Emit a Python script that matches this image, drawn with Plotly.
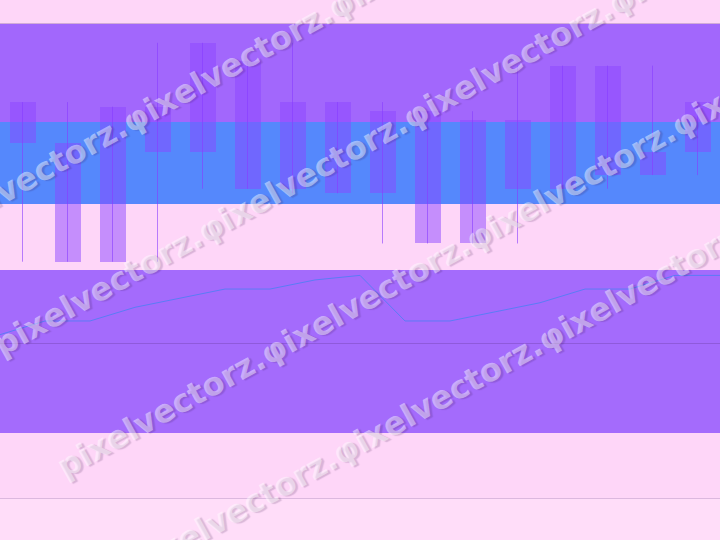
import math
import plotly.graph_objects as go

# ---- data ----
idx = list(range(16))
open_ = [135, 126, 100, 134, 124, 144, 116, 135, 115, 133, 104, 131, 116, 143, 119, 124]
close = [126, 100, 134, 124, 148, 116, 135, 115, 133, 104, 131, 116, 143, 119, 124, 135]
high = [135, 135, 134, 148, 148, 144, 148, 135, 135, 133, 133, 143, 143, 143, 143, 135]
low = [100, 100, 100, 100, 116, 116, 115, 115, 104, 104, 104, 104, 116, 116, 119, 119]

line_x = [i - 0.5 for i in range(17)]
line_y = [84, 87, 87, 90, 92, 94, 94, 96, 97, 87, 87, 89, 91, 94, 94, 97, 97]

bands = [(130.64, 152.13, '#a267fc'), (112.65, 130.64, '#5588fc'), (62.43, 98.18, '#a46bfc')]
grid_vals = [82.17, 152.13]
y_range = [48.18, 157.39]
x_range = [-0.5, 15.5]

wm_first = "pixelvectorz."
wm_rep = "φixelvectorz."

W, H, B = 720, 540, 42
PH = H - B

fig = go.Figure()

# wicks
wx, wy = [], []
for i, h, l in zip(idx, high, low):
    wx += [i, i, None]
    wy += [l, h, None]
fig.add_trace(go.Scatter(x=wx, y=wy, mode='lines',
                         line=dict(color='rgba(135,60,255,0.6)', width=1),
                         hoverinfo='skip', showlegend=False))

# bodies
base = [min(o, c) for o, c in zip(open_, close)]
hgt = [abs(o - c) for o, c in zip(open_, close)]
fig.add_trace(go.Bar(x=idx, y=hgt, base=base, width=0.578,
                     marker=dict(color='rgba(140,70,255,0.5)', line=dict(width=0)),
                     showlegend=False))

# line
fig.add_trace(go.Scatter(x=line_x, y=line_y, mode='lines',
                         line=dict(color='#5b7cf6', width=1), showlegend=False))

for y0, y1, col in bands:
    fig.add_shape(type='rect', xref='paper', x0=0, x1=1, yref='y', y0=y0, y1=y1,
                  fillcolor=col, line=dict(width=0), layer='below')

# watermark rows
ang = 29
dx, dy = math.cos(math.radians(ang)), -math.sin(math.radians(ang))
rep_len = 235
nreps = 5
starts = [(-80, 238), (-5, 348), (58, 470), (130, 570)]
for sx, sy in starts:
    L = rep_len * nreps
    cx, cy = sx + dx * L / 2, sy + dy * L / 2
    fig.add_annotation(text=wm_first + wm_rep * (nreps - 1), xref='paper', yref='paper',
                       x=cx / W, y=(PH - cy) / PH, xanchor='center', yanchor='middle',
                       textangle=-ang, showarrow=False,
                       font=dict(family='DejaVu Sans', size=32, weight='bold',
                                 color='rgba(255,255,255,0.45)',
                                 shadow='2px 2px 1px rgba(50,20,70,0.4)'))

fig.update_layout(
    width=W, height=H, autosize=False,
    margin=dict(l=0, r=0, t=0, b=B, pad=0),
    paper_bgcolor='#ffddf9', plot_bgcolor='#fed6f8',
    bargap=0, showlegend=False,
    xaxis=dict(range=x_range, showticklabels=False, showgrid=False, zeroline=False,
               showline=True, linecolor='rgba(80,40,120,0.2)', linewidth=1, ticks=''),
    yaxis=dict(range=y_range, showticklabels=False, zeroline=False, showgrid=True,
               tickvals=grid_vals, gridcolor='rgba(80,40,120,0.25)', gridwidth=1, ticks=''),
)

fig.write_html("out.html", config={'displayModeBar': False},
               post_script="document.body.style.margin='0px';")
